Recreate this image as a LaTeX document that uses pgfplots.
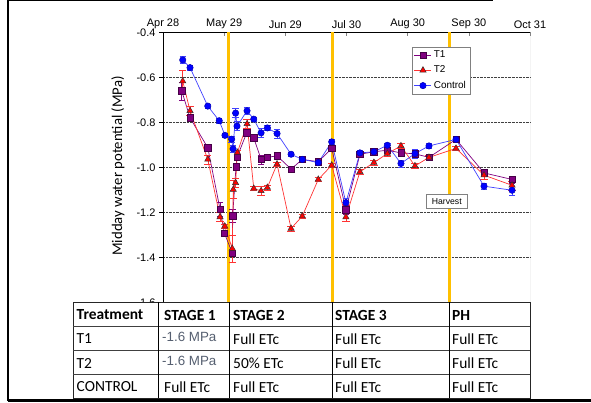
\documentclass[border=0pt]{standalone}
\usepackage{pgfplots}
\pgfplotsset{compat=1.18}
\usepackage{pgfplotstable}
\usepackage{fontspec}
\setmainfont{Liberation Sans}
\newfontfamily\calibri{Carlito}
\definecolor{tpurple}{HTML}{800080}
\definecolor{gold}{HTML}{FFC000}
\definecolor{slate}{RGB}{85,95,112}

\pgfplotstableread{
d v e
9.5 -0.660 0.04
13.7 -0.780 0.01
22.7 -0.913 0.01
28.9 -1.186 0.03
31.1 -1.292 0.01
35.1 -1.381 0.015
35.3 -1.216 0.03
37.0 -0.998 0.01
37.5 -0.956 0.01
42.4 -0.847 0.01
46.0 -0.869 0.01
49.7 -0.965 0.02
52.9 -0.956 0.01
57.8 -0.949 0.015
64.9 -1.008 0.01
70.6 -0.965 0.01
78.7 -0.975 0.01
85.5 -0.916 0.01
92.7 -1.188 0.02
99.8 -0.942 0.01
106.9 -0.931 0.01
113.7 -0.924 0.01
120.6 -0.936 0.01
127.7 -0.940 0.01
134.8 -0.956 0.01
148.5 -0.876 0.01
162.7 -1.025 0.015
176.9 -1.054 0.015
}\tone

\pgfplotstableread{
d v e
10.0 -0.617 0.05
13.7 -0.749 0.02
22.7 -0.965 0.02
28.9 -1.221 0.02
31.3 -1.262 0.01
35.1 -1.361 0.06
35.6 -1.099 0.04
36.8 -1.069 0.02
37.7 -0.934 0.01
42.6 -0.807 0.02
46.0 -1.094 0.01
49.7 -1.105 0.02
52.9 -1.090 0.01
57.8 -0.986 0.01
64.9 -1.272 0.01
70.6 -1.217 0.01
78.7 -1.054 0.01
85.5 -0.991 0.01
92.7 -1.221 0.02
99.8 -1.020 0.01
106.9 -0.979 0.01
113.7 -0.939 0.01
120.6 -0.905 0.01
127.7 -0.994 0.01
134.8 -0.956 0.01
148.5 -0.916 0.01
162.7 -1.035 0.02
176.9 -1.080 0.02
}\ttwo

\pgfplotstableread{
d v e
10.0 -0.523 0.015
13.7 -0.557 0.01
22.7 -0.728 0.01
28.5 -0.793 0.01
31.4 -0.858 0.01
34.8 -0.875 0.015
35.5 -0.918 0.015
36.8 -0.759 0.02
37.5 -0.817 0.02
42.6 -0.749 0.015
46.0 -0.786 0.01
49.7 -0.847 0.02
52.9 -0.825 0.01
57.8 -0.850 0.02
64.9 -0.942 0.01
70.6 -0.965 0.01
78.7 -0.979 0.01
85.5 -0.887 0.01
92.7 -1.157 0.02
99.8 -0.936 0.01
106.9 -0.931 0.01
113.7 -0.902 0.01
120.6 -0.983 0.015
127.7 -0.939 0.02
134.8 -0.905 0.01
148.5 -0.876 0.01
162.7 -1.084 0.015
176.9 -1.102 0.02
}\ctrl

\begin{document}
\begin{tikzpicture}
\useasboundingbox (0,0) rectangle (591bp,403bp);
\begin{axis}[
  at={(163bp,100.7bp)}, anchor=south west,
  scale only axis, width=367bp, height=270bp,
  xmin=0, xmax=186, ymin=-1.6, ymax=-0.4,
  axis x line*=top, axis y line*=left,
  axis line style={-, black, line width=0.8bp},
  xtick={0,31,62,93,124,155,186},
  xticklabels={Apr 28,May 29,Jun 29,Jul 30,Aug 30,Sep 30,Oct 31},
  ytick={-1.6,-1.4,-1.2,-1.0,-0.8,-0.6,-0.4},
  /pgf/number format/assume math mode=true,
  yticklabel style={/pgf/number format/.cd, fixed, fixed zerofill, precision=1},
  tick label style={font=\fontsize{11}{13}\selectfont},
  xtick align=inside, ytick align=outside,
  major tick length=4bp,
  x tick style={gray, line width=0.6bp},
  y tick style={black, line width=0.6bp},
  ymajorgrids,
  y grid style={densely dotted, black!75, line width=0.6bp},
  ylabel={Midday water potential (MPa)},
  ylabel style={at={(axis description cs:-0.1226,0.505)}, anchor=center, font=\calibri\fontsize{14.8}{17}\selectfont},
  legend style={at={(axis description cs:0.678,0.947)}, anchor=north west, draw=gray, line width=0.6bp,
    font=\fontsize{10}{11}\selectfont, inner sep=2bp, row sep=2.8bp, cells={anchor=west}},
  error bars/y dir=both, error bars/y explicit,
]
\addplot[gold, line width=3bp, forget plot] coordinates {(33.4,-1.6) (33.4,-0.4)};
\addplot[gold, line width=3bp, forget plot] coordinates {(85.7,-1.6) (85.7,-0.4)};
\addplot[gold, line width=3bp, forget plot] coordinates {(145.0,-1.6) (145.0,-0.4)};
\node[draw=gray, fill=white, line width=0.6bp, font=\fontsize{8.7}{10}\selectfont, minimum width=41bp, minimum height=14bp, inner sep=1bp] at (axis cs:143.8,-1.151) {Harvest};
\draw[gray!70, line width=0.8bp] (rel axis cs:1,0) -- (rel axis cs:1,1);

\addplot[tpurple, line width=0.7bp, mark=square*, mark size=3.2bp,
  mark options={fill=tpurple, draw=tpurple!55!black, solid, line width=0.5bp},
  error bars/error bar style={tpurple, line width=0.5bp}]
  table[x=d, y=v, y error=e] {\tone};
\addlegendentry{T1}
\addplot[red!80, line width=0.7bp, mark=triangle*, mark size=3.6bp,
  mark options={fill=red, draw=black!80, solid, line width=0.5bp},
  error bars/error bar style={red!80, line width=0.5bp}]
  table[x=d, y=v, y error=e] {\ttwo};
\addlegendentry{T2}
\addplot[blue!75, line width=0.7bp, mark=*, mark size=3.2bp,
  mark options={fill=blue, draw=blue!70!black, solid, line width=0.5bp},
  error bars/error bar style={blue!75, line width=0.5bp}]
  table[x=d, y=v, y error=e] {\ctrl};
\addlegendentry{Control}
\end{axis}

\begin{scope}[yshift=403bp, x=1bp, y=-1bp]
  % frame
  \draw[black, line width=2.4bp] (8,0) -- (8,401);
  \draw[black, line width=1bp] (8,1) -- (493,1);
  \draw[black, line width=3bp] (8,400.5) -- (591,400.5);
  % table
  \fill[white] (73,302) rectangle (530,398.5);
  \draw[black!85, line width=0.9bp] (73,302) rectangle (530,398.5);
  \foreach \yy in {326,350,374} \draw[black!75, line width=0.9bp] (73,\yy) -- (530,\yy);
  \foreach \xx in {158,229,332,449} \draw[black, line width=0.9bp] (\xx,302) -- (\xx,398.5);
  \begin{scope}[every node/.style={anchor=west, inner sep=0pt, font=\calibri\fontsize{15.5}{17}\selectfont}]
    \node[font=\calibri\bfseries\fontsize{15.5}{17}\selectfont] at (76.5,315) {Treatment};
    \node[font=\calibri\bfseries\fontsize{15.5}{17}\selectfont] at (164,315) {STAGE 1};
    \node[font=\calibri\bfseries\fontsize{15.5}{17}\selectfont] at (233,315) {STAGE 2};
    \node[font=\calibri\bfseries\fontsize{15.5}{17}\selectfont] at (335,315) {STAGE 3};
    \node[font=\calibri\bfseries\fontsize{15.5}{17}\selectfont] at (452,315) {PH};
    \node at (76.5,339) {T1};
    \node at (76.5,363) {T2};
    \node at (76.5,387) {CONTROL};
    \node[font=\fontsize{13.4}{15}\selectfont, text=slate] at (162,337) {-1.6 MPa};
    \node[font=\fontsize{13.4}{15}\selectfont, text=slate] at (162,361) {-1.6 MPa};
    \node at (164,387) {Full ETc};
    \node at (233,339) {Full ETc};
    \node at (233,363) {50\% ETc};
    \node at (233,387) {Full ETc};
    \node at (335,339) {Full ETc};
    \node at (335,363) {Full ETc};
    \node at (335,387) {Full ETc};
    \node at (452,339) {Full ETc};
    \node at (452,363) {Full ETc};
    \node at (452,387) {Full ETc};
  \end{scope}
\end{scope}
\end{tikzpicture}
\end{document}
